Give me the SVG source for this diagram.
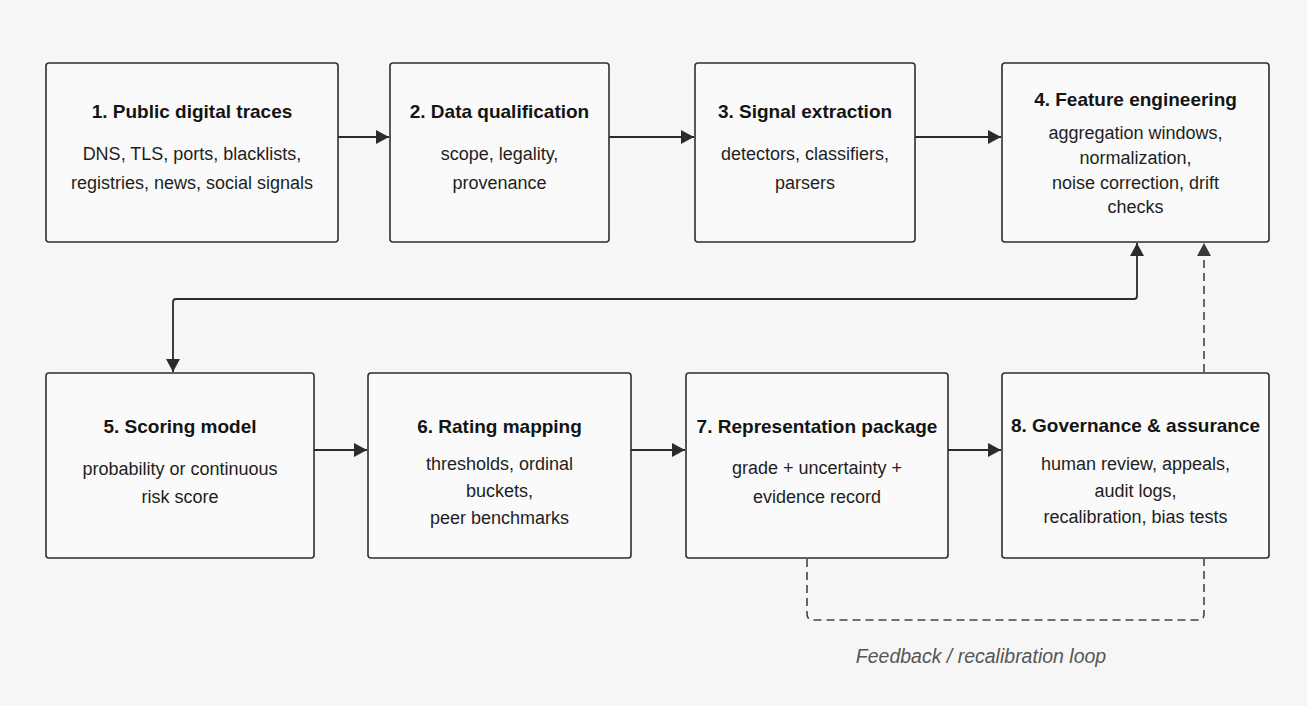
<svg xmlns="http://www.w3.org/2000/svg" width="1307" height="706" viewBox="0 0 1307 706">
<style>
.box{fill:#fafafa;stroke:#2e2e2e;stroke-width:1.6}
.t{font-family:"Liberation Sans",Arial,sans-serif;font-weight:bold;font-size:19px;fill:#141414;text-anchor:middle}
.b{font-family:"Liberation Sans",Arial,sans-serif;font-size:18px;fill:#1e1e1e;text-anchor:middle}
.c{fill:none;stroke:#2b2b2b;stroke-width:1.8}
.d{fill:none;stroke:#444;stroke-width:1.6;stroke-dasharray:8 5}
.lbl{font-family:"Liberation Sans",Arial,sans-serif;font-style:italic;font-size:19.5px;fill:#555;text-anchor:middle}
</style>
<defs>
<marker id="ah" viewBox="0 0 13 14" refX="13" refY="7" markerWidth="13" markerHeight="14" markerUnits="userSpaceOnUse" orient="auto-start-reverse">
<path d="M0,0 L13,7 L0,14 Z" fill="#2b2b2b"/>
</marker>
<marker id="ahd" viewBox="0 0 13 14" refX="13" refY="7" markerWidth="13" markerHeight="14" markerUnits="userSpaceOnUse" orient="auto">
<path d="M0,0 L13,7 L0,14 Z" fill="#3a3a3a"/>
</marker>
</defs>
<rect x="0" y="0" width="1307" height="706" fill="#f6f6f6"/>
<g id="connectors">
<path class="c" d="M338,137 H389" marker-end="url(#ah)"/>
<path class="c" d="M609,137 H694" marker-end="url(#ah)"/>
<path class="c" d="M915,137 H1001" marker-end="url(#ah)"/>
<path class="c" d="M1137,243 V296 Q1137,299 1134,299 H176 Q173,299 173,302 V372" marker-start="url(#ah)" marker-end="url(#ah)"/>
<path class="c" d="M314,450 H367" marker-end="url(#ah)"/>
<path class="c" d="M631,450 H685" marker-end="url(#ah)"/>
<path class="c" d="M948,450 H1001" marker-end="url(#ah)"/>
<path class="d" d="M1204,372 V243" marker-end="url(#ahd)"/>
<path class="d" d="M807,559 V614 Q807,620 813,620 H1198 Q1204,620 1204,614 V559"/>
</g>
<g id="n1"><rect class="box" x="46" y="63" width="292" height="179" rx="3"/>
<text class="t" x="192" y="118">1. Public digital traces</text>
<text class="b" x="192" y="160">DNS, TLS, ports, blacklists,</text>
<text class="b" x="192" y="189">registries, news, social signals</text></g>
<g id="n2"><rect class="box" x="390" y="63" width="219" height="179" rx="3"/>
<text class="t" x="499.5" y="118">2. Data qualification</text>
<text class="b" x="499.5" y="160">scope, legality,</text>
<text class="b" x="499.5" y="189">provenance</text></g>
<g id="n3"><rect class="box" x="695" y="63" width="220" height="179" rx="3"/>
<text class="t" x="805" y="118">3. Signal extraction</text>
<text class="b" x="805" y="160">detectors, classifiers,</text>
<text class="b" x="805" y="189">parsers</text></g>
<g id="n4"><rect class="box" x="1002" y="63" width="267" height="179" rx="3"/>
<text class="t" x="1135.5" y="106">4. Feature engineering</text>
<text class="b" x="1135.5" y="139">aggregation windows,</text>
<text class="b" x="1135.5" y="164">normalization,</text>
<text class="b" x="1135.5" y="189">noise correction, drift</text>
<text class="b" x="1135.5" y="213">checks</text></g>
<g id="n5"><rect class="box" x="46" y="373" width="268" height="185" rx="3"/>
<text class="t" x="180" y="433">5. Scoring model</text>
<text class="b" x="180" y="475">probability or continuous</text>
<text class="b" x="180" y="503">risk score</text></g>
<g id="n6"><rect class="box" x="368" y="373" width="263" height="185" rx="3"/>
<text class="t" x="499.5" y="433">6. Rating mapping</text>
<text class="b" x="499.5" y="470">thresholds, ordinal</text>
<text class="b" x="499.5" y="497">buckets,</text>
<text class="b" x="499.5" y="524">peer benchmarks</text></g>
<g id="n7"><rect class="box" x="686" y="373" width="262" height="185" rx="3"/>
<text class="t" x="817" y="433">7. Representation package</text>
<text class="b" x="817" y="474">grade + uncertainty +</text>
<text class="b" x="817" y="503">evidence record</text></g>
<g id="n8"><rect class="box" x="1002" y="373" width="267" height="185" rx="3"/>
<text class="t" x="1135.5" y="432">8. Governance &amp; assurance</text>
<text class="b" x="1135.5" y="470">human review, appeals,</text>
<text class="b" x="1135.5" y="497">audit logs,</text>
<text class="b" x="1135.5" y="523">recalibration, bias tests</text></g>
<g id="label"><text class="lbl" x="981" y="663">Feedback / recalibration loop</text></g>
</svg>
